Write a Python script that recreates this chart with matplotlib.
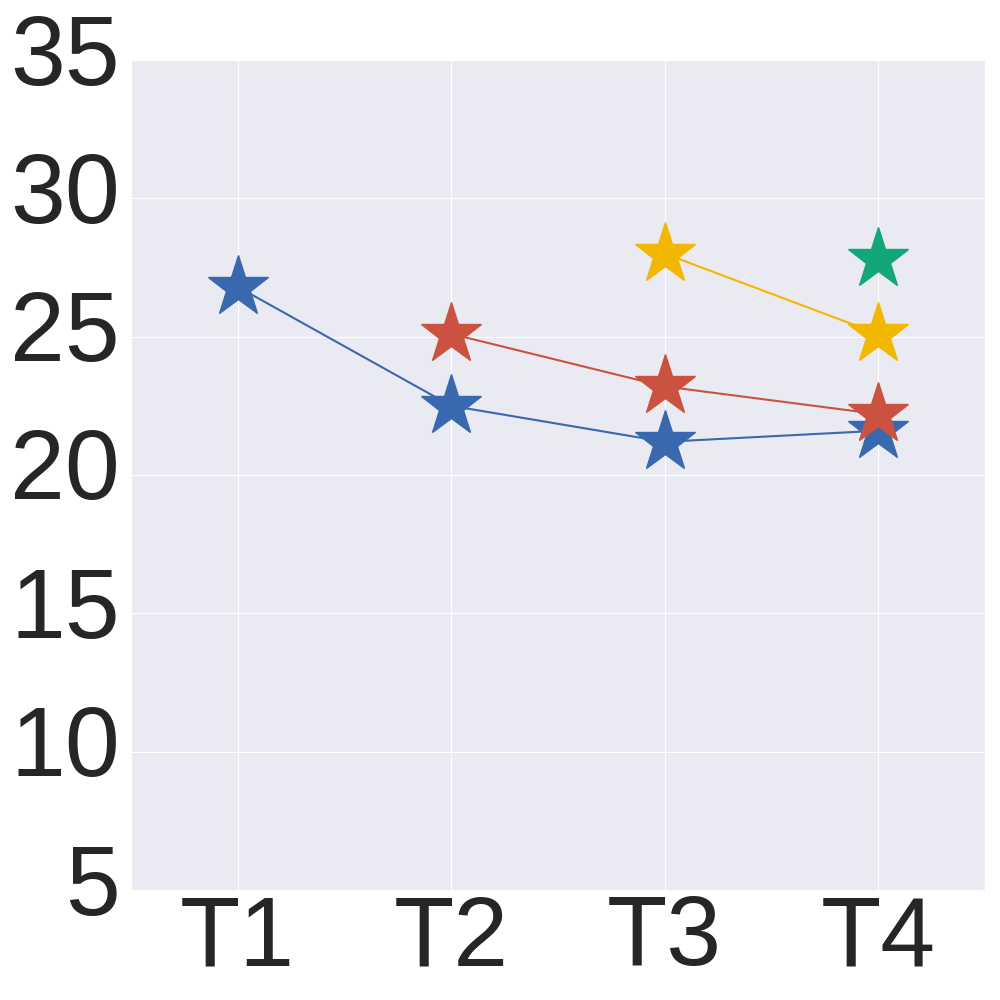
import matplotlib
matplotlib.use("Agg")
import matplotlib.pyplot as plt
import matplotlib.transforms as mtransforms
import seaborn as sns

sns.set_style("darkgrid")
plt.rcParams['font.family'] = ['Liberation Sans', 'DejaVu Sans']

tasks = ["T1", "T2", "T3", "T4"]

# each series: x positions (task index) and values
blue_x = [0, 1, 2, 3]
blue_y = [26.8, 22.5, 21.2, 21.6]
red_x = [1, 2, 3]
red_y = [25.1, 23.2, 22.2]
yellow_x = [2, 3]
yellow_y = [28.0, 25.1]
green_x = [3]
green_y = [27.8]

series = [
    (blue_x, blue_y, '#3A68AE'),
    (red_x, red_y, '#CB5240'),
    (yellow_x, yellow_y, '#F2B701'),
    (green_x, green_y, '#13A678'),
]

fig = plt.figure(figsize=(10, 10), dpi=100)
ax = fig.add_axes([0.131, 0.11, 0.854, 0.83])

for xs, ys, c in series:
    ax.plot(xs, ys, color=c, linewidth=1.5, marker='*', markersize=46)

ax.set_xlim(-0.5, 3.5)
ax.set_ylim(5, 35)
ax.set_xticks(range(len(tasks)))
ax.set_xticklabels(tasks)
ax.set_yticks([5, 10, 15, 20, 25, 30, 35])
ax.tick_params(axis='both', labelsize=71, colors='#262626', length=0)
ax.tick_params(axis='x', pad=3)
ax.tick_params(axis='y', pad=8)

# y labels sit a little above their grid lines in the original
offset = mtransforms.ScaledTranslation(0, 0.11, fig.dpi_scale_trans)
for lab in ax.get_yticklabels():
    lab.set_transform(lab.get_transform() + offset)

fig.savefig("out.png")
